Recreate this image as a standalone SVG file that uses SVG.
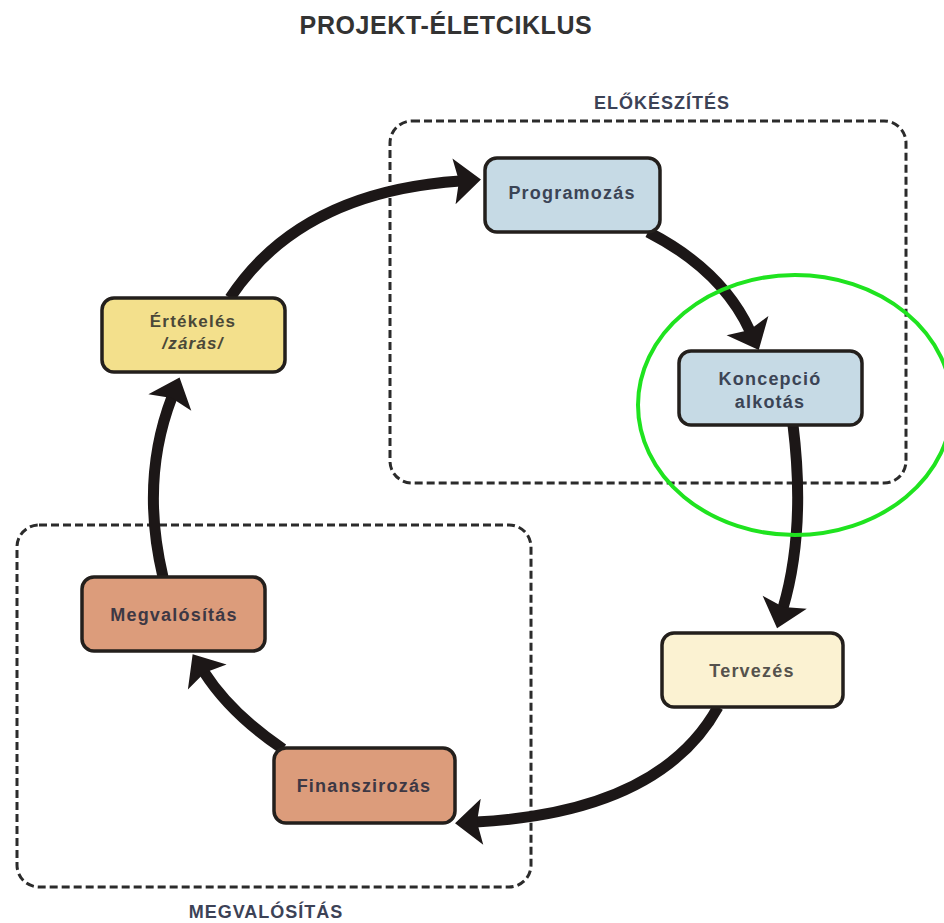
<svg xmlns="http://www.w3.org/2000/svg" width="944" height="923" viewBox="0 0 944 923">
<defs>
<style>
.title{font-family:"Liberation Sans",Arial,sans-serif;font-weight:bold;font-size:25px;fill:#333;letter-spacing:0.6px}
.group{font-family:"Liberation Sans",Arial,sans-serif;font-weight:bold;font-size:18px;fill:#3c4256;letter-spacing:1px}
.region{fill:none;stroke:#2b2b2b;stroke-width:3;stroke-dasharray:8 4}
.node rect{stroke:#231f1c;stroke-width:3.5}
.node text{font-family:"Liberation Sans",Arial,sans-serif;font-weight:bold;font-size:18px;letter-spacing:1.2px;text-anchor:middle}
.blue rect{fill:#c6dae5}
.blue text{fill:#3b4455}
.yellow rect{fill:#f3e08c}
.yellow text{fill:#4a4838;font-size:17px}
.cream rect{fill:#fbf2d2}
.cream text{fill:#55524d}
.salmon rect{fill:#dc9c7b}
.salmon text{fill:#3d3844}
.conn path{fill:none;stroke:#1c1717;stroke-width:11;marker-end:url(#head)}
</style>
<marker id="head" markerUnits="userSpaceOnUse" markerWidth="40" markerHeight="50" viewBox="0 -25 32 50" refX="6" refY="0" orient="auto">
<path d="M0,-23 L27,0 L0,23 L5,0 Z" fill="#1c1717"/>
</marker>
</defs>
<rect width="944" height="923" fill="#ffffff"/>

<text class="title" x="446" y="34" text-anchor="middle">PROJEKT-ÉLETCIKLUS</text>

<g id="region-elokeszites">
<rect class="region" x="390" y="121" width="516" height="362" rx="22"/>
<text class="group" x="662" y="109" text-anchor="middle">ELŐKÉSZÍTÉS</text>
</g>
<g id="region-megvalositas">
<rect class="region" x="17" y="525" width="514" height="362" rx="22"/>
<text class="group" x="266" y="918" text-anchor="middle">MEGVALÓSÍTÁS</text>
</g>

<g id="connectors" class="conn">
<path d="M230,298 Q300,192 460,181"/>
<path d="M648,232 Q722,270 750,331"/>
<path d="M793,425 Q806,530 783,608"/>
<path d="M718,707 Q660,812 476,822"/>
<path d="M283,749 Q231,714 204,672"/>
<path d="M163,577 Q140,480 172,397"/>
</g>

<g id="programozas" class="node blue">
<rect x="485" y="158" width="175" height="74" rx="12"/>
<text x="572" y="199">Programozás</text>
</g>
<g id="koncepcio" class="node blue">
<rect x="679" y="351" width="183" height="74" rx="12"/>
<text x="770" y="385">Koncepció</text>
<text x="770" y="408">alkotás</text>
</g>
<g id="tervezes" class="node cream">
<rect x="662" y="633" width="181" height="74" rx="12"/>
<text x="752" y="677">Tervezés</text>
</g>
<g id="finanszirozas" class="node salmon">
<rect x="274" y="748" width="181" height="75" rx="12"/>
<text x="364" y="792">Finanszirozás</text>
</g>
<g id="megvalositas" class="node salmon">
<rect x="82" y="577" width="183" height="74" rx="12"/>
<text x="174" y="621">Megvalósítás</text>
</g>
<g id="ertekeles" class="node yellow">
<rect x="102" y="298" width="183" height="74" rx="12"/>
<text x="193" y="327">Értékelés</text>
<text x="193" y="349" font-style="italic">/zárás/</text>
</g>

<ellipse id="highlight" cx="795" cy="405" rx="157" ry="130" fill="none" stroke="#1fe31f" stroke-width="4"/>
</svg>
